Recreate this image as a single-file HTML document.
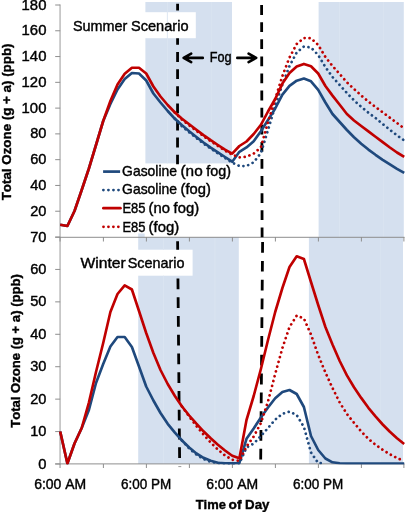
<!DOCTYPE html>
<html><head><meta charset="utf-8"><title>Ozone chart</title>
<style>html,body{margin:0;padding:0;background:#fff;overflow:hidden}svg{display:block}</style>
</head><body>
<svg width="408" height="512" viewBox="0 0 408 512">
<rect width="408" height="512" fill="#fff"/>
<g fill="#D5E0EF">
<rect x="145.4" y="2" width="86.6" height="235"/>
<rect x="318.6" y="2" width="85.2" height="235"/>
<rect x="138.2" y="237" width="100.6" height="227"/>
<rect x="138.2" y="233.5" width="6.6" height="4"/>
<rect x="308.9" y="237" width="94.1" height="227"/>
</g>
<g fill="#fff">
<rect x="144.8" y="163.4" width="100" height="73.6"/>
<rect x="62" y="12.2" width="133.8" height="26"/>
<rect x="62" y="249.7" width="130.6" height="26"/>
</g>
<g stroke="#DAE4F1" stroke-width="0.9" fill="none">
<path d="M167.4,2V163.4"/>
<path d="M211.3,2V163.4"/>
<path d="M339.4,2V237"/>
<path d="M383.6,2V237"/>
<path d="M163.5,237V249.7M163.5,275.7V464M215,237V464M380.3,237V464"/>
</g>
<g stroke="#8e8e8e" stroke-width="1" fill="none" shape-rendering="auto">
<path d="M60.05,4.5V464.5" stroke="#999"/>
<path d="M55.2,237.3H404.5"/>
<path d="M55.2,463.9H404.5"/>
<path d="M55.2,5.00H60.2"/>
<path d="M55.2,30.78H60.2"/>
<path d="M55.2,56.56H60.2"/>
<path d="M55.2,82.33H60.2"/>
<path d="M55.2,108.11H60.2"/>
<path d="M55.2,133.89H60.2"/>
<path d="M55.2,159.67H60.2"/>
<path d="M55.2,185.44H60.2"/>
<path d="M55.2,211.22H60.2"/>
<path d="M55.2,237.00H60.2"/>
<path d="M55.2,269.43H60.2"/>
<path d="M55.2,301.86H60.2"/>
<path d="M55.2,334.29H60.2"/>
<path d="M55.2,366.71H60.2"/>
<path d="M55.2,399.14H60.2"/>
<path d="M55.2,431.57H60.2"/>
<path d="M55.2,464.00H60.2"/>
<path d="M60.05,237V241.5"/>
<path d="M60.05,464V468"/>
<path d="M103.40,237V241.5"/>
<path d="M103.40,464V468"/>
<path d="M146.40,237V241.5"/>
<path d="M146.40,464V468"/>
<path d="M189.40,237V241.5"/>
<path d="M189.40,464V468"/>
<path d="M232.40,237V241.5"/>
<path d="M232.40,464V468"/>
<path d="M275.40,237V241.5"/>
<path d="M275.40,464V468"/>
<path d="M318.40,237V241.5"/>
<path d="M318.40,464V468"/>
<path d="M361.40,237V241.5"/>
<path d="M361.40,464V468"/>
<path d="M403.90,237V241.5"/>
<path d="M403.90,464V468"/>
</g>
<g stroke="#000" stroke-width="2.8" fill="none">
<path d="M177.60,3.7L177.60,10.6M177.58,38.2L177.58,44.8M177.58,52.1L177.57,62.0M177.57,69.2L177.57,79.1M177.56,86.3L177.56,96.2M177.56,103.4L177.55,113.2M177.55,120.5L177.55,130.4M177.54,137.6L177.54,147.4M177.54,154.7L177.53,164.3"/>
<path d="M261.60,5.1L261.62,14.9M261.64,22.2L261.66,32.0M261.67,39.3L261.70,49.1M261.71,56.4L261.73,66.2M261.75,73.5L261.77,83.3M261.78,90.6L261.81,100.4M261.82,107.7L261.84,117.5M261.86,124.8L261.88,134.6M261.90,141.9L261.92,151.7M261.93,159.0L261.95,168.8M261.97,176.1L261.99,185.9M262.01,193.2L262.03,203.0M262.04,210.3L262.06,220.1M262.08,227.4L262.10,237.2"/>
<path d="M177.60,241.2L177.68,249.7M177.94,278.4L178.04,289.2M178.11,297.2L178.21,308.0M178.29,315.9L178.39,326.7M178.46,334.7L178.56,345.5M178.63,353.5L178.73,364.3M178.81,372.2L178.91,383.0M178.98,391.0L179.08,401.8M179.15,409.8L179.25,420.6M179.33,428.6L179.43,439.4M179.50,447.3L179.60,458.1"/>
<path d="M262.60,242.1L262.51,252.8M262.44,260.9L262.34,271.6M262.27,279.7L262.18,290.4M262.11,298.5L262.01,309.2M261.94,317.3L261.85,328.0M261.78,336.0L261.68,346.8M261.61,354.8L261.52,365.6M261.45,373.6L261.36,384.4M261.29,392.4L261.19,403.2M261.12,411.2L261.03,422.0M260.96,430.0L260.86,440.8M260.79,448.8L260.70,459.5"/>
</g>
<path d="M60.2,224.8 L67.4,226.0 L74.5,211.0 L81.7,190.0 L88.9,168.5 L96.0,145.0 L103.2,121.0 L110.4,104.0 L117.5,89.5 L124.7,79.0 L131.9,73.0 L139.0,73.5 L146.2,80.5 L153.4,93.5 L160.5,102.5 L167.7,111.0 L174.9,118.8 L182.0,125.3 L189.2,131.3 L196.4,137.0 L203.5,142.5 L210.7,147.6 L217.9,152.4 L225.0,157.0 L232.2,161.7 L239.4,151.8 L246.5,147.4 L253.7,141.2 L260.9,131.3 L268.0,120.0 L275.2,108.5 L282.4,94.6 L289.5,85.8 L296.7,80.7 L303.9,78.6 L311.0,81.3 L318.2,89.8 L325.4,102.5 L332.5,114.0 L339.7,122.0 L346.9,130.0 L354.0,137.2 L361.2,143.7 L368.4,149.6 L375.5,154.8 L382.7,159.8 L389.9,164.4 L397.0,168.8 L404.2,172.9" stroke="#1F497D" stroke-width="2.65" fill="none" stroke-linejoin="round" stroke-linecap="butt"/>
<path d="M174.9,118.8 L182.0,126.3 L189.2,132.3 L196.4,138.0 L203.5,143.5 L210.7,148.6 L217.9,153.4 L225.0,158.0 L232.2,162.6 L239.4,166.0 L246.5,166.0 L253.7,162.3 L260.9,153.0 L268.0,130.0 L275.2,106.0 L282.4,84.5 L289.5,66.0 L296.7,52.5 L303.9,46.5 L311.0,47.6 L318.2,55.0 L325.4,67.0 L332.5,77.0 L339.7,85.0 L346.9,93.0 L354.0,100.3 L361.2,106.8 L368.4,112.7 L375.5,118.0 L382.7,124.0 L389.9,129.8 L397.0,135.3 L404.2,140.5" stroke="#1F497D" stroke-width="2.75" fill="none" stroke-linejoin="round" stroke-linecap="round" stroke-dasharray="0.01 4.95"/>
<path d="M60.2,224.8 L67.4,226.0 L74.5,211.0 L81.7,190.0 L88.9,168.5 L96.0,145.0 L103.2,121.0 L110.4,101.0 L117.5,84.5 L124.7,73.8 L131.9,67.7 L139.0,67.7 L146.2,73.5 L153.4,86.5 L160.5,96.5 L167.7,105.0 L174.9,112.5 L182.0,118.7 L189.2,124.3 L196.4,129.8 L203.5,135.1 L210.7,140.2 L217.9,145.0 L225.0,149.7 L232.2,153.6 L239.4,146.0 L246.5,141.5 L253.7,134.0 L260.9,124.8 L268.0,111.5 L275.2,99.0 L282.4,83.6 L289.5,73.1 L296.7,66.6 L303.9,63.9 L311.0,66.2 L318.2,73.5 L325.4,86.0 L332.5,95.6 L339.7,104.8 L346.9,114.0 L354.0,120.5 L361.2,126.0 L368.4,131.4 L375.5,136.7 L382.7,142.1 L389.9,147.5 L397.0,152.5 L404.2,156.9" stroke="#C00000" stroke-width="2.65" fill="none" stroke-linejoin="round" stroke-linecap="butt"/>
<path d="M174.9,112.5 L182.0,119.7 L189.2,125.3 L196.4,130.8 L203.5,136.1 L210.7,141.2 L217.9,146.0 L225.0,150.7 L232.2,154.6 L239.4,157.3 L246.5,156.6 L253.7,153.6 L260.9,147.3 L268.0,122.0 L275.2,99.0 L282.4,76.0 L289.5,57.5 L296.7,44.0 L303.9,38.0 L311.0,38.2 L318.2,45.0 L325.4,57.0 L332.5,66.0 L339.7,74.0 L346.9,82.3 L354.0,89.0 L361.2,95.5 L368.4,101.6 L375.5,107.0 L382.7,112.3 L389.9,117.7 L397.0,123.0 L404.2,128.5" stroke="#C00000" stroke-width="2.75" fill="none" stroke-linejoin="round" stroke-linecap="round" stroke-dasharray="0.01 4.95"/>
<clipPath id="cb"><rect x="59" y="237" width="346" height="227.4"/></clipPath>
<g clip-path="url(#cb)">
<path d="M60.2,431.5 L67.4,463.5 L74.5,443.5 L81.7,428.0 L88.9,410.0 L96.0,383.0 L103.2,364.0 L110.4,346.5 L117.5,337.0 L124.7,337.0 L131.9,347.0 L139.0,366.5 L146.2,386.5 L153.4,400.5 L160.5,413.0 L167.7,423.8 L174.9,432.7 L182.0,440.5 L189.2,447.5 L196.4,453.5 L203.5,457.8 L210.7,460.8 L217.9,462.7 L225.0,463.3 L232.2,463.4 L239.4,463.0 L246.5,438.8 L253.7,428.5 L260.9,417.5 L268.0,407.5 L275.2,398.3 L282.4,392.0 L289.5,390.0 L296.7,394.0 L303.9,407.0 L311.0,436.0 L318.2,450.0 L325.4,458.5 L332.5,462.3 L339.7,463.3 L346.9,463.5 L354.0,463.5 L361.2,463.5 L368.4,463.5 L375.5,463.5 L382.7,463.5 L389.9,463.5 L397.0,463.5 L404.2,463.5" stroke="#1F497D" stroke-width="2.65" fill="none" stroke-linejoin="round" stroke-linecap="butt"/>
<path d="M182.0,440.5 L189.2,448.5 L196.4,454.5 L203.5,459.0 L210.7,461.8 L217.9,463.2 L225.0,463.5 L232.2,463.5 L239.4,463.5 L246.5,447.5 L253.7,443.6 L260.9,436.0 L268.0,428.0 L275.2,419.6 L282.4,413.8 L289.5,411.6 L296.7,415.0 L303.9,427.0 L311.0,452.5 L318.2,463.0 L325.4,463.5" stroke="#1F497D" stroke-width="2.75" fill="none" stroke-linejoin="round" stroke-linecap="round" stroke-dasharray="0.01 4.95"/>
<path d="M60.2,431.5 L67.4,463.5 L74.5,443.5 L81.7,428.0 L88.9,402.5 L96.0,372.0 L103.2,343.0 L110.4,312.0 L117.5,294.0 L124.7,285.3 L131.9,289.5 L139.0,311.0 L146.2,333.0 L153.4,353.0 L160.5,370.0 L167.7,384.0 L174.9,396.0 L182.0,406.5 L189.2,415.5 L196.4,423.7 L203.5,431.3 L210.7,438.3 L217.9,444.7 L225.0,450.5 L232.2,455.7 L239.4,458.3 L246.5,420.0 L253.7,396.0 L260.9,369.0 L268.0,340.0 L275.2,312.0 L282.4,288.0 L289.5,267.0 L296.7,256.3 L303.9,259.0 L311.0,282.0 L318.2,305.0 L325.4,327.0 L332.5,344.5 L339.7,361.0 L346.9,375.4 L354.0,387.3 L361.2,397.9 L368.4,407.8 L375.5,416.4 L382.7,424.5 L389.9,431.8 L397.0,438.2 L404.2,444.1" stroke="#C00000" stroke-width="2.65" fill="none" stroke-linejoin="round" stroke-linecap="butt"/>
<path d="M182.0,406.5 L189.2,416.5 L196.4,426.0 L203.5,434.5 L210.7,442.5 L217.9,449.5 L225.0,455.5 L232.2,459.7 L239.4,461.0 L246.5,446.5 L253.7,436.5 L260.9,423.0 L268.0,401.5 L275.2,374.0 L282.4,348.0 L289.5,327.0 L296.7,315.6 L303.9,318.5 L311.0,334.5 L318.2,355.0 L325.4,372.5 L332.5,388.0 L339.7,402.5 L346.9,414.0 L354.0,422.8 L361.2,431.4 L368.4,438.8 L375.5,444.8 L382.7,449.8 L389.9,454.3 L397.0,458.0 L404.2,461.0" stroke="#C00000" stroke-width="2.75" fill="none" stroke-linejoin="round" stroke-linecap="round" stroke-dasharray="0.01 4.95"/>
</g>
<path d="M178.3,466.6H181.3" stroke="#9a9a9a" stroke-width="1"/>
<path d="M103.1,171.6H120.1" stroke="#1F497D" stroke-width="2.7"/>
<path d="M103.4,190.1H119" stroke="#1F497D" stroke-width="2.8" stroke-linecap="round" stroke-dasharray="0.01 5.02"/>
<path d="M103.4,208.2H120.4" stroke="#C00000" stroke-width="2.8" stroke-linecap="round"/>
<path d="M103.5,226.8H119" stroke="#C00000" stroke-width="2.8" stroke-linecap="round" stroke-dasharray="0.01 4.94"/>
<g stroke="#000" stroke-width="2.6" fill="none" stroke-linecap="round" stroke-linejoin="round">
<path d="M184,57.9H202.8M191.2,53.7L183.6,57.9L191.2,62.1"/>
<path d="M237.3,57.9H255.8M248.6,53.7L256.2,57.9L248.6,62.1"/>
</g>
<g font-family="'Liberation Sans', sans-serif" fill="#000" stroke="#000" stroke-width="0.4" style="filter:grayscale(1);font-kerning:none">
<text x="21.6" y="9.5" font-size="14.20" textLength="24.8" lengthAdjust="spacingAndGlyphs">180</text>
<text x="21.6" y="35.3" font-size="14.20" textLength="24.8" lengthAdjust="spacingAndGlyphs">160</text>
<text x="21.6" y="61.1" font-size="14.20" textLength="24.8" lengthAdjust="spacingAndGlyphs">140</text>
<text x="21.6" y="86.8" font-size="14.20" textLength="24.8" lengthAdjust="spacingAndGlyphs">120</text>
<text x="21.6" y="112.6" font-size="14.20" textLength="24.8" lengthAdjust="spacingAndGlyphs">100</text>
<text x="30.2" y="138.4" font-size="14.20" textLength="16.2" lengthAdjust="spacingAndGlyphs">80</text>
<text x="30.2" y="164.2" font-size="14.20" textLength="16.2" lengthAdjust="spacingAndGlyphs">60</text>
<text x="30.2" y="189.9" font-size="14.20" textLength="16.2" lengthAdjust="spacingAndGlyphs">40</text>
<text x="30.2" y="215.7" font-size="14.20" textLength="16.2" lengthAdjust="spacingAndGlyphs">20</text>
<text x="30.2" y="241.5" font-size="14.20" textLength="16.2" lengthAdjust="spacingAndGlyphs">70</text>
<text x="30.2" y="273.9" font-size="14.20" textLength="16.2" lengthAdjust="spacingAndGlyphs">60</text>
<text x="30.2" y="306.4" font-size="14.20" textLength="16.2" lengthAdjust="spacingAndGlyphs">50</text>
<text x="30.2" y="338.8" font-size="14.20" textLength="16.2" lengthAdjust="spacingAndGlyphs">40</text>
<text x="30.2" y="371.2" font-size="14.20" textLength="16.2" lengthAdjust="spacingAndGlyphs">30</text>
<text x="30.2" y="403.6" font-size="14.20" textLength="16.2" lengthAdjust="spacingAndGlyphs">20</text>
<text x="30.2" y="436.1" font-size="14.20" textLength="16.2" lengthAdjust="spacingAndGlyphs">10</text>
<text x="38.2" y="468.5" font-size="14.20" textLength="8.2" lengthAdjust="spacingAndGlyphs">0</text>
<text x="34.2" y="488.5" font-size="14.20" textLength="52.0" lengthAdjust="spacingAndGlyphs">6:00 AM</text>
<text x="121.1" y="488.5" font-size="14.20" textLength="50.2" lengthAdjust="spacingAndGlyphs">6:00 PM</text>
<text x="206.2" y="488.5" font-size="14.20" textLength="52.0" lengthAdjust="spacingAndGlyphs">6:00 AM</text>
<text x="293.1" y="488.5" font-size="14.20" textLength="50.2" lengthAdjust="spacingAndGlyphs">6:00 PM</text>
<text x="195.7" y="508.5" font-size="13.60" textLength="30.2" lengthAdjust="spacingAndGlyphs" font-weight="bold">Time</text>
<text x="228.6" y="508.5" font-size="13.60" textLength="13.0" lengthAdjust="spacingAndGlyphs" font-weight="bold">of</text>
<text x="245.1" y="508.5" font-size="13.60" textLength="24.4" lengthAdjust="spacingAndGlyphs" font-weight="bold">Day</text>
<text x="72.9" y="30.9" font-size="14.20" textLength="54.4" lengthAdjust="spacingAndGlyphs">Summer</text>
<text x="131.0" y="30.9" font-size="14.20" textLength="57.5" lengthAdjust="spacingAndGlyphs">Scenario</text>
<text x="80.5" y="267.9" font-size="14.20" textLength="45.3" lengthAdjust="spacingAndGlyphs">Winter</text>
<text x="127.7" y="267.9" font-size="14.20" textLength="56.9" lengthAdjust="spacingAndGlyphs">Scenario</text>
<text x="209.8" y="61.8" font-size="14.20" textLength="21.8" lengthAdjust="spacingAndGlyphs">Fog</text>
<text x="122.1" y="175.8" font-size="14.20" textLength="54.9" lengthAdjust="spacingAndGlyphs">Gasoline</text>
<text x="180.5" y="175.8" font-size="14.20" textLength="22.2" lengthAdjust="spacingAndGlyphs">(no</text>
<text x="206.3" y="175.8" font-size="14.20" textLength="24.7" lengthAdjust="spacingAndGlyphs">fog)</text>
<text x="122.1" y="194.3" font-size="14.20" textLength="54.9" lengthAdjust="spacingAndGlyphs">Gasoline</text>
<text x="180.6" y="194.3" font-size="14.20" textLength="30.3" lengthAdjust="spacingAndGlyphs">(fog)</text>
<text x="122.4" y="213.2" font-size="14.20" textLength="23.1" lengthAdjust="spacingAndGlyphs">E85</text>
<text x="148.6" y="213.2" font-size="14.20" textLength="21.4" lengthAdjust="spacingAndGlyphs">(no</text>
<text x="173.6" y="213.2" font-size="14.20" textLength="25.5" lengthAdjust="spacingAndGlyphs">fog)</text>
<text x="122.4" y="231.7" font-size="14.20" textLength="23.1" lengthAdjust="spacingAndGlyphs">E85</text>
<text x="148.6" y="231.7" font-size="14.20" textLength="30.6" lengthAdjust="spacingAndGlyphs">(fog)</text>
<text transform="translate(11.2,200.3) rotate(-90)" font-size="13.7" font-weight="bold" textLength="156.8" lengthAdjust="spacingAndGlyphs">Total Ozone (g + a) (ppb)</text>
<text transform="translate(20.2,427.8) rotate(-90)" font-size="13.7" font-weight="bold" textLength="153.6" lengthAdjust="spacingAndGlyphs">Total Ozone (g + a) (ppb)</text>
</g>
</svg>
</body></html>
